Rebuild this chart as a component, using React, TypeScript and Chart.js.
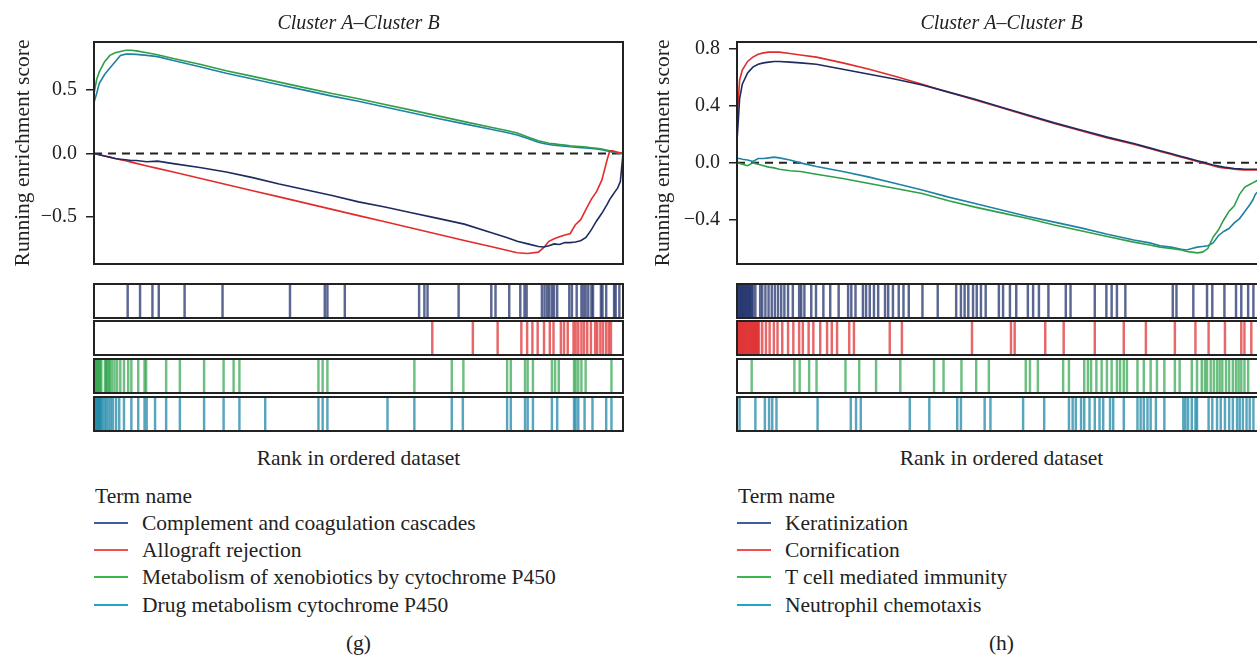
import React, { useEffect, useRef } from 'react';
import { Chart, registerables } from 'chart.js';

Chart.register(...registerables);

const FONT = '"Liberation Serif", "Times New Roman", serif';
const INK = '#222222';

const panelTitle = 'Cluster A\u2013Cluster B';
const yAxisTitle = 'Running enrichment score';
const xAxisTitle = 'Rank in ordered dataset';
const legendTitle = 'Term name';

// rank position in ordered dataset (percent of list)
const rankGrid = [0, 0.5, 1, 2, 3, 4, 5, 6, 7, 8, 10, 12, 15, 20, 25, 30, 35, 40, 45, 50, 55, 60, 65, 70, 75, 78, 80, 82, 84, 85, 86, 87, 88, 89, 90, 91, 92, 93, 94, 95, 96, 97, 97.5, 98, 98.5, 99, 99.5, 100];

// ---- panel (g)
const gTerms = ['Complement and coagulation cascades', 'Allograft rejection', 'Metabolism of xenobiotics by cytochrome P450', 'Drug metabolism cytochrome P450'];
const gComplement = [0, -0.005, -0.01, -0.02, -0.03, -0.04, -0.045, -0.05, -0.055, -0.055, -0.065, -0.06, -0.08, -0.11, -0.145, -0.19, -0.24, -0.285, -0.33, -0.38, -0.42, -0.465, -0.51, -0.555, -0.62, -0.66, -0.69, -0.71, -0.73, -0.735, -0.725, -0.71, -0.715, -0.7, -0.7, -0.695, -0.685, -0.66, -0.6, -0.53, -0.47, -0.4, -0.36, -0.33, -0.3, -0.27, -0.22, 0];
const gAllograft = [0, -0.005, -0.01, -0.02, -0.029, -0.039, -0.049, -0.058, -0.068, -0.078, -0.098, -0.117, -0.146, -0.195, -0.244, -0.293, -0.341, -0.39, -0.439, -0.488, -0.536, -0.585, -0.634, -0.683, -0.73, -0.76, -0.78, -0.785, -0.775, -0.74, -0.69, -0.67, -0.655, -0.64, -0.63, -0.56, -0.52, -0.44, -0.36, -0.3, -0.21, -0.05, 0.02, 0.02, 0.015, 0.01, 0.005, 0];
const gXenobiotics = [0.47, 0.58, 0.64, 0.72, 0.77, 0.79, 0.8, 0.81, 0.81, 0.805, 0.79, 0.775, 0.745, 0.7, 0.65, 0.605, 0.56, 0.515, 0.47, 0.43, 0.385, 0.34, 0.295, 0.25, 0.205, 0.18, 0.16, 0.13, 0.1, 0.09, 0.08, 0.075, 0.07, 0.065, 0.06, 0.057, 0.054, 0.05, 0.045, 0.04, 0.035, 0.025, 0.02, 0.015, 0.01, 0.005, 0, 0];
const gDrug = [0.4, 0.47, 0.55, 0.62, 0.67, 0.72, 0.77, 0.78, 0.78, 0.778, 0.77, 0.76, 0.73, 0.68, 0.63, 0.585, 0.54, 0.495, 0.45, 0.41, 0.365, 0.32, 0.275, 0.232, 0.19, 0.165, 0.145, 0.117, 0.088, 0.078, 0.07, 0.064, 0.06, 0.056, 0.052, 0.049, 0.046, 0.043, 0.04, 0.035, 0.03, 0.02, 0.015, 0.01, 0.008, 0.004, 0, 0];
const gTicks = [-0.5, 0, 0.5];
const gYMin = -0.868;
const gYMax = 0.875;

const gRugComplement = [6.2, 8.55, 10.9, 12.1, 17.0, 24.2, 37.0, 43.6, 44.1, 47.4, 61.5, 62.5, 63.1, 69.0, 75.2, 76.0, 78.6, 80.7, 81.5, 81.9, 84.8, 85.3, 85.8, 86.2, 86.7, 87.1, 87.7, 90.0, 90.5, 91.4, 92.3, 92.7, 93.1, 93.6, 94.2, 94.5, 96.0, 96.3, 97.0, 98.5, 98.8, 99.5];
const gRugAllograft = [64.0, 71.7, 76.4, 80.9, 82.0, 83.0, 84.0, 85.2, 86.3, 87.0, 88.4, 89.0, 89.7, 90.8, 91.2, 91.7, 92.3, 92.8, 93.4, 94.1, 94.9, 95.3, 95.9, 96.4, 97.0, 97.5, 97.9];
const gRugXenobiotics = [0, 0.2, 0.4, 0.6, 0.8, 1.0, 1.2, 1.9, 2.1, 2.3, 2.6, 2.8, 3.2, 3.7, 4.2, 4.8, 5.5, 6.3, 6.9, 8.2, 9.4, 9.7, 13.5, 16.1, 20.7, 24.4, 26.3, 27.4, 42.4, 43.2, 44.1, 60.6, 67.7, 69.9, 78.2, 78.9, 81.6, 82.1, 83.1, 86.7, 87.3, 88.0, 90.9, 91.2, 91.7, 92.3, 93.1, 98.0];
const gRugDrug = [0, 0.2, 0.4, 0.6, 0.8, 1.0, 1.2, 1.5, 1.9, 2.2, 2.6, 3.0, 3.4, 4.0, 4.6, 5.5, 6.9, 8.2, 9.4, 9.8, 11.4, 13.5, 16.1, 20.7, 24.4, 27.4, 32.3, 42.4, 43.2, 44.1, 55.5, 60.6, 67.7, 69.8, 78.2, 78.9, 81.6, 82.1, 83.1, 86.7, 87.7, 90.9, 91.2, 91.7, 92.9, 94.4, 97.0, 98.0];

// ---- panel (h)
const hTerms = ['Keratinization', 'Cornification', 'T cell mediated immunity', 'Neutrophil chemotaxis'];
const hKeratinization = [0.15, 0.45, 0.55, 0.63, 0.67, 0.69, 0.7, 0.705, 0.71, 0.71, 0.705, 0.7, 0.69, 0.655, 0.62, 0.585, 0.545, 0.495, 0.445, 0.39, 0.335, 0.28, 0.23, 0.18, 0.135, 0.105, 0.085, 0.065, 0.045, 0.035, 0.025, 0.015, 0.005, -0.005, -0.015, -0.022, -0.03, -0.035, -0.04, -0.042, -0.045, -0.045, -0.045, -0.045, -0.045, -0.04, -0.03, 0];
const hCornification = [0.3, 0.58, 0.65, 0.71, 0.74, 0.76, 0.77, 0.775, 0.775, 0.775, 0.765, 0.755, 0.74, 0.7, 0.655, 0.605, 0.55, 0.495, 0.44, 0.385, 0.33, 0.275, 0.225, 0.175, 0.13, 0.1, 0.08, 0.06, 0.04, 0.03, 0.02, 0.01, 0, -0.01, -0.02, -0.03, -0.035, -0.04, -0.045, -0.048, -0.05, -0.05, -0.05, -0.05, -0.05, -0.04, -0.03, 0];
const hTcell = [0, -0.005, -0.01, -0.02, 0, -0.01, -0.02, -0.03, -0.035, -0.045, -0.055, -0.06, -0.08, -0.11, -0.145, -0.18, -0.215, -0.265, -0.31, -0.35, -0.39, -0.435, -0.475, -0.515, -0.555, -0.575, -0.59, -0.6, -0.61, -0.62, -0.625, -0.63, -0.625, -0.6, -0.52, -0.47, -0.4, -0.34, -0.3, -0.22, -0.17, -0.15, -0.14, -0.13, -0.12, -0.08, -0.04, 0];
const hNeutrophil = [0.03, 0.03, 0.025, 0.02, 0.01, 0.03, 0.03, 0.035, 0.04, 0.035, 0.02, 0, -0.025, -0.06, -0.1, -0.145, -0.19, -0.24, -0.285, -0.33, -0.375, -0.415, -0.455, -0.5, -0.54, -0.56, -0.58, -0.59, -0.605, -0.61, -0.6, -0.59, -0.585, -0.58, -0.56, -0.51, -0.48, -0.46, -0.42, -0.39, -0.34, -0.29, -0.26, -0.22, -0.2, -0.15, -0.08, 0];
const hTicks = [-0.4, 0, 0.4, 0.8];
const hYMin = -0.708;
const hYMax = 0.846;

const hRugKeratinization = [0, 0.2, 0.4, 0.6, 0.8, 1.0, 1.2, 1.4, 1.6, 1.8, 2.0, 2.2, 2.4, 2.6, 2.9, 3.3, 4.2, 4.6, 5.2, 5.8, 6.4, 7.0, 7.6, 8.2, 8.8, 9.5, 10.4, 11.6, 12.0, 12.6, 13.9, 14.8, 16.2, 17.5, 19.1, 20.9, 21.5, 22.3, 23.7, 24.3, 25.0, 25.8, 26.6, 27.9, 28.5, 29.4, 30.5, 31.4, 32.4, 35.0, 37.9, 41.4, 42.3, 43.0, 43.7, 44.6, 45.3, 46.1, 47.0, 49.5, 50.3, 51.6, 52.8, 55.0, 56.0, 57.1, 58.9, 62.2, 63.1, 67.7, 69.9, 70.9, 71.9, 73.5, 82.5, 83.2, 86.4, 89.0, 90.0, 92.3, 94.5, 95.5, 96.8, 97.8];
const hRugCornification = [0, 0.2, 0.4, 0.6, 0.8, 1.0, 1.2, 1.4, 1.6, 1.8, 2.0, 2.2, 2.4, 2.6, 2.8, 3.0, 3.2, 3.4, 3.6, 3.8, 4.0, 4.6, 5.3, 6.0, 6.8, 7.5, 8.4, 9.5, 10.5, 11.6, 12.3, 13.4, 14.3, 15.6, 16.9, 17.8, 18.8, 21.1, 22.0, 28.8, 31.1, 44.4, 51.8, 52.5, 58.3, 61.8, 67.7, 73.2, 77.4, 82.9, 86.8, 89.3, 92.4, 95.5, 96.1, 97.4];
const hRugTcell = [2.6, 10.7, 11.7, 13.5, 14.9, 20.4, 23.0, 26.2, 30.8, 37.2, 39.0, 42.4, 45.2, 47.6, 54.6, 55.4, 56.9, 61.7, 62.8, 65.7, 66.4, 67.0, 68.0, 69.0, 70.0, 70.9, 71.9, 72.5, 73.2, 73.8, 75.8, 77.0, 78.3, 79.5, 80.9, 82.9, 83.8, 86.1, 87.1, 88.0, 88.6, 89.0, 89.7, 90.3, 90.9, 91.4, 91.9, 92.6, 93.2, 93.9, 94.5, 95.0, 95.5, 96.1, 96.8];
const hRugNeutrophil = [0.3, 3.3, 5.1, 5.9, 6.5, 7.3, 15.1, 21.4, 22.4, 23.3, 32.6, 36.3, 41.6, 42.3, 46.8, 47.9, 54.1, 58.1, 62.8, 63.5, 64.1, 65.1, 65.7, 66.7, 67.7, 68.6, 69.3, 70.6, 71.2, 73.2, 75.8, 76.4, 77.0, 77.7, 78.3, 79.3, 80.9, 84.5, 84.9, 85.4, 86.1, 86.8, 87.1, 89.3, 90.0, 90.9, 91.6, 92.4, 93.2, 93.9, 94.7, 95.2, 95.8, 96.5, 97.1, 97.8];

const lineColors = ['#1d2b5e', '#e22b2b', '#2f9e48', '#1f82a2'];
const rugColors = ['rgba(28,45,105,0.72)', 'rgba(222,38,40,0.7)', 'rgba(40,160,70,0.68)', 'rgba(24,132,165,0.72)'];
const legendColors = ['#3d5f9a', '#ee4f52', '#3fb54d', '#21a4c6'];

const fmtTick = (v: number) => (v < 0 ? '\u2212' : '') + Math.abs(v).toFixed(1);

const framePlugin = {
  id: 'frame',
  afterDatasetsDraw(chart: any) {
    const { ctx, chartArea: a } = chart;
    ctx.save();
    ctx.strokeStyle = INK;
    ctx.lineWidth = 2;
    ctx.strokeRect(a.left, a.top, a.right - a.left, a.bottom - a.top);
    ctx.restore();
  },
};

type Series = { name: string; values: number[]; color: string };

function GseaPlot(props: { left: number; width: number; height: number; axisWidth: number; padRight: number; series: Series[]; yMin: number; yMax: number; ticks: number[] }) {
  const ref = useRef<HTMLCanvasElement>(null);
  useEffect(() => {
    const { series, yMin, yMax, ticks, axisWidth, padRight } = props;
    const chart = new Chart(ref.current as HTMLCanvasElement, {
      type: 'line',
      data: {
        datasets: [
          ...series.map((s) => ({
            label: s.name,
            data: rankGrid.map((x, i) => ({ x, y: s.values[i] })),
            borderColor: s.color,
            borderWidth: 1.6,
            pointRadius: 0,
            tension: 0,
            fill: false,
          })),
          {
            label: 'zero',
            data: [{ x: 0, y: 0 }, { x: 100, y: 0 }],
            borderColor: INK,
            borderWidth: 2,
            borderDash: [8, 6],
            pointRadius: 0,
            fill: false,
          },
        ],
      },
      options: {
        animation: false,
        responsive: false,
        devicePixelRatio: 1,
        layout: { padding: { left: 0, right: padRight, top: 0, bottom: 6 } },
        plugins: {
          legend: { display: false },
          tooltip: { enabled: false },
          title: {
            display: true,
            fullSize: false,
            text: panelTitle,
            color: INK,
            font: { family: FONT, size: 20, style: 'italic', weight: 'normal' },
            padding: { top: 12, bottom: 6 },
          },
        },
        scales: {
          x: { type: 'linear', min: 0, max: 100, display: false },
          y: {
            type: 'linear',
            min: yMin,
            max: yMax,
            afterFit: (s: any) => {
              s.width = axisWidth;
            },
            afterBuildTicks: (s: any) => {
              s.ticks = ticks.map((v) => ({ value: v }));
            },
            ticks: {
              color: INK,
              padding: 9,
              font: { family: FONT, size: 20 },
              callback: (v: any) => fmtTick(Number(v)),
            },
            grid: { drawOnChartArea: false, drawTicks: true, tickLength: 8, color: INK, lineWidth: 1.5 },
            border: { display: false },
            title: {
              display: true,
              text: yAxisTitle,
              color: INK,
              font: { family: FONT, size: 21.5 },
              padding: { top: 10, bottom: 0 },
            },
          },
        },
      } as any,
      plugins: [framePlugin],
    });
    return () => chart.destroy();
  }, []);
  return (
    <canvas
      ref={ref}
      width={props.width}
      height={props.height}
      style={{ position: 'absolute', left: props.left, top: 0, width: props.width, height: props.height }}
    />
  );
}

function Rug(props: { left: number; top: number; width: number; height: number; positions: number[]; color: string }) {
  const ref = useRef<HTMLCanvasElement>(null);
  useEffect(() => {
    const chart = new Chart(ref.current as HTMLCanvasElement, {
      type: 'bar',
      data: {
        datasets: [
          {
            data: props.positions.map((p) => ({ x: p, y: 1 })),
            backgroundColor: props.color,
            borderWidth: 0,
            barThickness: 1.8,
          },
        ],
      },
      options: {
        animation: false,
        responsive: false,
        devicePixelRatio: 1,
        layout: { padding: 0 },
        plugins: { legend: { display: false }, tooltip: { enabled: false } },
        scales: {
          x: { type: 'linear', min: 0, max: 100, display: false, offset: false },
          y: { min: 0, max: 1, display: false },
        },
      } as any,
    });
    return () => chart.destroy();
  }, []);
  const w = props.width - 4;
  const h = props.height - 4;
  return (
    <div
      style={{
        position: 'absolute',
        left: props.left,
        top: props.top,
        width: props.width,
        height: props.height,
        border: `2px solid ${INK}`,
        boxSizing: 'border-box',
        background: '#fff',
      }}
    >
      <canvas ref={ref} width={w} height={h} style={{ display: 'block', width: w, height: h }} />
    </div>
  );
}

function TextAt(props: { x: number; y: number; text: string; align?: 'left' | 'center'; size?: number }) {
  const size = props.size ?? 21.5;
  const style: React.CSSProperties = {
    position: 'absolute',
    top: props.y - 13,
    height: 26,
    lineHeight: '26px',
    fontSize: size,
    whiteSpace: 'nowrap',
  };
  if (props.align === 'center') {
    style.left = props.x - 300;
    style.width = 600;
    style.textAlign = 'center';
  } else {
    style.left = props.x;
  }
  return <div style={style}>{props.text}</div>;
}

function Panel(props: {
  canvasLeft: number;
  canvasWidth: number;
  boxLeft: number;
  axisWidth: number;
  padRight: number;
  center: number;
  terms: string[];
  curves: number[][];
  rugs: number[][];
  yMin: number;
  yMax: number;
  ticks: number[];
  caption: string;
}) {
  const series: Series[] = props.terms.map((t, i) => ({ name: t, values: props.curves[i], color: lineColors[i] }));
  const rugTops = [283, 320, 358, 396];
  const legendRows = [523, 550, 577, 605];
  return (
    <>
      <GseaPlot
        left={props.canvasLeft}
        width={props.canvasWidth}
        height={285}
        axisWidth={props.axisWidth}
        padRight={props.padRight}
        series={series}
        yMin={props.yMin}
        yMax={props.yMax}
        ticks={props.ticks}
      />
      {props.rugs.map((r, i) => (
        <Rug key={i} left={props.boxLeft - 1} top={rugTops[i]} width={531} height={36} positions={r} color={rugColors[i]} />
      ))}
      <TextAt x={props.center} y={458} text={xAxisTitle} align="center" />
      <TextAt x={props.boxLeft + 1} y={496} text={legendTitle} />
      {props.terms.map((t, i) => (
        <React.Fragment key={t}>
          <div
            style={{
              position: 'absolute',
              left: props.boxLeft,
              top: legendRows[i] - 1,
              width: 34,
              height: 2,
              background: legendColors[i],
            }}
          />
          <TextAt x={props.boxLeft + 48} y={legendRows[i]} text={t} />
        </React.Fragment>
      ))}
      <TextAt x={props.center} y={643} text={props.caption} align="center" />
    </>
  );
}

export default function App() {
  return (
    <div
      style={{
        position: 'fixed',
        left: 0,
        top: 0,
        width: 1257,
        height: 658,
        overflow: 'hidden',
        background: '#fff',
        fontFamily: FONT,
        color: INK,
      }}
    >
      <Panel
        canvasLeft={0}
        canvasWidth={640}
        boxLeft={94}
        axisWidth={94}
        padRight={17}
        center={358.5}
        terms={gTerms}
        curves={[gComplement, gAllograft, gXenobiotics, gDrug]}
        rugs={[gRugComplement, gRugAllograft, gRugXenobiotics, gRugDrug]}
        yMin={gYMin}
        yMax={gYMax}
        ticks={gTicks}
        caption="(g)"
      />
      <Panel
        canvasLeft={640}
        canvasWidth={640}
        boxLeft={737}
        axisWidth={97}
        padRight={14}
        center={1001.5}
        terms={hTerms}
        curves={[hKeratinization, hCornification, hTcell, hNeutrophil]}
        rugs={[hRugKeratinization, hRugCornification, hRugTcell, hRugNeutrophil]}
        yMin={hYMin}
        yMax={hYMax}
        ticks={hTicks}
        caption="(h)"
      />
    </div>
  );
}
